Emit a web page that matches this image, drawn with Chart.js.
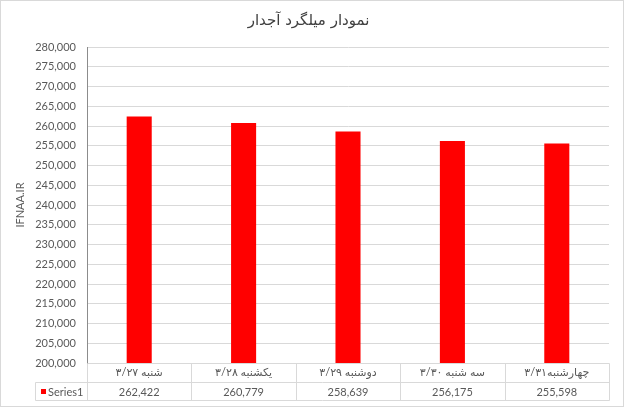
<!DOCTYPE html>
<html>
<head>
<meta charset="utf-8">
<script src="https://cdn.jsdelivr.net/npm/chart.js@4.4.1/dist/chart.umd.min.js"></script>
<style>
  html, body { margin: 0; padding: 0; background: #fff; }
  #wrap { width: 625px; height: 408px; position: relative; }
</style>
</head>
<body>
<div id="wrap"><canvas id="chart" width="625" height="408"></canvas></div>
<script>
// Chart data
const chartTitle = 'نمودار میلگرد آجدار';
const axisTitle = 'IFNAA.IR';
const seriesName = 'Series1';
const categories = ['شنبه ۳/۲۷', 'یکشنبه ۳/۲۸', 'دوشنبه ۳/۲۹', 'سه شنبه ۳/۳۰', 'چهارشنبه۳/۳۱'];
const values = [262422, 260779, 258639, 256175, 255598];
const yMin = 200000;
const yMax = 280000;
const yStep = 5000;

const barColor = '#ff0000';
const textColor = '#595959';
const lineColor = '#d9d9d9';
const tableFont = "11px Lato, 'DejaVu Sans', sans-serif";

// Background, outer frame and the data table under the plot
const tablePlugin = {
  id: 'dataTable',
  beforeDraw(chart) {
    const ctx = chart.ctx;
    ctx.save();
    ctx.fillStyle = '#fff';
    ctx.fillRect(0, 0, chart.width, chart.height);
    ctx.strokeStyle = lineColor;
    ctx.lineWidth = 1;
    ctx.strokeRect(0.5, 0.5, chart.width - 2, chart.height - 2);
    ctx.restore();
  },
  afterDraw(chart) {
    const ctx = chart.ctx;
    const area = chart.chartArea;
    const xScale = chart.scales.x;
    const top = Math.round(area.bottom) + 0.5;
    const mid = top + 19;
    const bottom = mid + 18;
    const left = Math.round(area.left) + 0.5;
    const right = Math.round(area.right) + 0.5;
    const legendLeft = 35.5;
    const step = (area.right - area.left) / categories.length;

    ctx.save();
    ctx.strokeStyle = lineColor;
    ctx.lineWidth = 1;
    ctx.beginPath();
    ctx.moveTo(left, top); ctx.lineTo(right, top);
    ctx.moveTo(legendLeft, mid); ctx.lineTo(right, mid);
    ctx.moveTo(legendLeft, bottom); ctx.lineTo(right, bottom);
    ctx.moveTo(legendLeft, mid); ctx.lineTo(legendLeft, bottom);
    for (let i = 0; i <= categories.length; i++) {
      const x = Math.round(area.left + step * i) + 0.5;
      ctx.moveTo(x, top); ctx.lineTo(x, bottom);
    }
    ctx.stroke();

    // values row
    ctx.fillStyle = textColor;
    ctx.font = tableFont;
    ctx.textAlign = 'center';
    ctx.textBaseline = 'middle';
    values.forEach((v, i) => {
      ctx.fillText(v.toLocaleString('en-US'), xScale.getPixelForValue(i), (mid + bottom) / 2 + 1);
    });

    // legend key
    ctx.fillStyle = barColor;
    ctx.fillRect(41, 389, 5, 5);
    ctx.fillStyle = textColor;
    ctx.textAlign = 'left';
    ctx.fillText(seriesName, 48, (mid + bottom) / 2 + 1);
    ctx.restore();
  }
};

new Chart(document.getElementById('chart'), {
  type: 'bar',
  data: {
    labels: categories,
    datasets: [{
      label: seriesName,
      data: values,
      backgroundColor: barColor,
      categoryPercentage: 1,
      barPercentage: 0.24
    }]
  },
  options: {
    responsive: false,
    animation: false,
    layout: { padding: { left: 8, right: 16, top: 0, bottom: 0 } },
    plugins: {
      legend: { display: false },
      tooltip: { enabled: false },
      title: {
        display: true,
        text: chartTitle,
        color: '#404040',
        font: { family: "'DejaVu Sans', sans-serif", size: 15, weight: 'normal' },
        padding: { top: 12, bottom: 17 }
      }
    },
    scales: {
      x: {
        grid: { display: false, drawTicks: false },
        border: { display: false },
        ticks: {
          color: textColor,
          font: { family: "Lato, 'DejaVu Sans', sans-serif", size: 11 },
          padding: 3,
          maxRotation: 0,
          autoSkip: false
        },
        afterFit(scale) { scale.height = 45; }
      },
      y: {
        min: yMin,
        max: yMax,
        grid: { color: lineColor, drawTicks: false },
        border: { display: true, color: '#8c8c8c' },
        ticks: {
          stepSize: yStep,
          color: textColor,
          font: { family: "Lato, 'DejaVu Sans', sans-serif", size: 11 },
          padding: 11,
          callback: v => v.toLocaleString('en-US')
        },
        title: {
          display: true,
          text: axisTitle,
          color: textColor,
          font: { family: "Lato, 'DejaVu Sans', sans-serif", size: 11 },
          padding: { top: 6, bottom: 0 }
        },
        afterFit(scale) { scale.width = 79; }
      }
    }
  },
  plugins: [tablePlugin]
});
</script>
</body>
</html>
